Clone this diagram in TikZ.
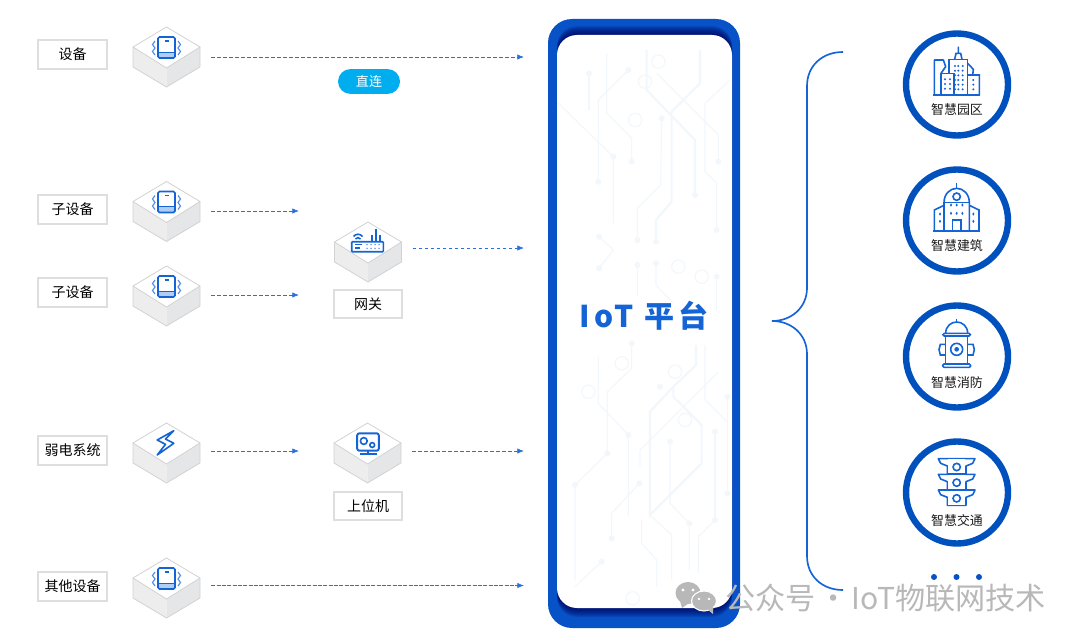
\documentclass[tikz,border=0pt]{standalone}
\usepackage{fontspec}
\setmainfont{Noto Sans CJK SC}
\usetikzlibrary{arrows.meta}
\definecolor{rimblue}{HTML}{0852C8}
\definecolor{ringblue}{HTML}{0050BE}
\definecolor{iconblue}{HTML}{1464D6}
\definecolor{flowblue}{HTML}{2B6FDC}
\definecolor{wavblue}{HTML}{4F8FEA}
\definecolor{trace}{HTML}{F2F7FC}
\definecolor{pillblue}{HTML}{00AEEF}
\definecolor{cubeleft}{HTML}{EDEDEE}
\definecolor{cuberight}{HTML}{E5E6E7}
\definecolor{cubeedge}{HTML}{D2D2D2}
\definecolor{markgray}{HTML}{B8B8B8}
\newcommand{\phoneglyph}[0]{%
  \fill[wavblue!45] (-8.5,25) rectangle (8.5,31);
  \draw[glyph,rounded corners=1.2pt] (-8.5,10) rectangle (8.5,31);
  \draw[glyph,line width=.6pt] (-8.5,25) -- (8.5,25);
  \draw[glyph,line width=.9pt] (-2,14) -- (2,14);
  \draw[wavblue,line width=.85pt] (-11.5,14) -- (-14,17.5) -- (-11.5,21) -- (-14,24.5) -- (-11.5,28);
  \draw[wavblue,line width=.85pt] (11.5,14) -- (14,17.5) -- (11.5,21) -- (14,24.5) -- (11.5,28);
}
\newcommand{\boltglyph}[0]{%
  \draw[glyph,line join=round] (7.3,7.7) -- (-9.3,17) -- (-1,21.3) -- (-9.3,32) -- (7.3,20.3) -- (-1,16) -- cycle;
}
\newcommand{\routerglyph}[0]{%
  \draw[glyph,rounded corners=.6pt] (-16.3,19.7) rectangle (15.3,29.7);
  \draw[glyph] (3.7,19.7) -- (3.7,13) (7.7,19.7) -- (7.7,7.3) (12,19.7) -- (12,13);
  \draw[glyph] (-14.5,14.5) .. controls (-12,11.5) and (-8,11.5) .. (-5.5,14.5);
  \draw[glyph] (-12.5,17) .. controls (-11,15.2) and (-9,15.2) .. (-7.5,17);
  \draw[glyph,line width=.9pt] (-13.5,22.5) -- (-6.5,22.5) (-13.5,26) -- (-8.5,26);
  \foreach \dotx in {-1,3,7,11} {
    \fill[iconblue] (\dotx,22.7) circle (.7) (\dotx,26.3) circle (.7);
  }
}
\newcommand{\hostglyph}[0]{%
  \draw[glyph,line width=1.45pt,rounded corners=1.6pt] (-10.3,10.3) rectangle (11.3,27.7);
  \draw[glyph] (-3.7,18) circle (3.4);
  \draw[glyph] (4.7,22) circle (2.4);
  \draw[glyph,line width=1.3pt] (.5,27.7) -- (.5,31) (-8,31.2) -- (9,31.2);
}
\newcommand{\isocube}[5]{%
  \begin{scope}[shift={(#2,#4)}]
    \fill[cubeleft] (-33.5,20) -- (0,41) -- (0,60) -- (-33.5,40) -- cycle;
    \fill[cuberight] (33.5,20) -- (0,41) -- (0,60) -- (33.5,40) -- cycle;
    \draw[cubeline,fill=white] (0,0) -- (33.5,20) -- (0,41) -- (-33.5,20) -- cycle;
    \draw[cubeline] (-33.5,20) -- (-33.5,40) -- (0,60) -- (33.5,40) -- (33.5,20);
    #5
  \end{scope}
  \node[cubeslot] (#1) at (#2,#3) {};
}
\tikzset{
  labelbox/.style={draw=black!13,line width=1.3pt,fill=white,minimum width=51.5pt,minimum height=21.5pt,inner sep=0pt,font=\fontsize{10.5}{12}\selectfont,text=black},
  cubeslot/.style={minimum width=66.75pt,minimum height=6pt,inner sep=0pt},
  cubeline/.style={draw=cubeedge,line width=.6pt,line join=round},
  glyph/.style={draw=iconblue,line width=1.2pt},
  flow/.style={draw=flowblue,line width=.55pt,dash pattern=on 2.6pt off 1.9pt,-{Latex[length=5pt,width=4pt]}},
  ringnode/.style={circle,draw=ringblue,line width=4.8pt,fill=white,minimum size=76.5pt,inner sep=0pt},
  ringtext/.style={inner sep=0pt,font=\fontsize{9.7}{11}\selectfont,text=black!90},
  crop/.style={x=.25pt,y=-.25pt},
  tracethin/.style={draw=trace,line width=.8pt},
  tracefat/.style={draw=trace,line width=1.6pt}
}
\begin{document}
\begin{tikzpicture}[x=.75pt,y=-.75pt]
  \useasboundingbox (0,0) rectangle (1080,642);
  \node[draw=none,fill=rimblue,rounded corners=18pt,minimum width=144pt,minimum height=456.75pt,inner sep=0pt] (platform) at (644,323.5) {};
  \foreach \spread in {1,...,9} {
    \fill[blue!35!black,opacity=.13,rounded corners=15pt] (557,35-\spread) rectangle (732,608+\spread);
  }
  \node[fill=white,rounded corners=15pt,minimum width=131.25pt,minimum height=429.75pt,inner sep=0pt] (board) at (644.5,321.5) {};
  \begin{scope}[shift={(530,10)},crop]
    \draw[tracethin] (205,515) -- (205,270) -- (295,180);
    \draw[tracethin] (230,130) -- (230,310) -- (305,385) -- (305,455);
    \draw[tracethin] (85,280) -- (250,440) -- (250,640);
    \draw[tracefat] (350,120) -- (350,240) -- (495,390) -- (495,555);
    \draw[tracethin] (395,325) -- (392,525) -- (322,595) -- (322,690);
    \draw[tracefat] (510,120) -- (510,220) -- (425,305) -- (425,575) -- (378,630) -- (378,695);
    \draw[tracethin] (600,210) -- (525,280) -- (525,485) -- (560,520) -- (560,660);
    \draw[tracethin] (380,190) -- (565,375) -- (565,455);
    \draw[tracethin] (207,680) -- (250,720) -- (207,775);
    \draw[tracethin] (378,760) -- (378,825) -- (430,880);
    \draw[tracethin] (322,765) -- (322,860);
    \draw[tracethin] (560,800) -- (560,900);
    \draw[tracethin] (177,190) -- (177,300);
    \foreach \hx/\hy in {205/515,295/180,305/455,250/440,495/555,395/325,322/690,378/695,560/660,565/455,207/680,207/775,378/760,322/765,560/800,177/190} {
      \fill[trace] (\hx,\hy) circle (9);
    }
    \foreach \hx/\hy in {315/330,345/215,385/155,515/800,445/770} {
      \draw[tracethin] (\hx,\hy) circle (20);
    }
  \end{scope}
  \begin{scope}[shift={(550,340)},crop]
    \draw[tracethin] (145,50) -- (145,190) -- (235,285) -- (235,530);
    \draw[tracethin] (245,10) -- (245,85) -- (172,155) -- (172,340) -- (75,435) -- (75,720);
    \draw[tracefat] (438,15) -- (438,75) -- (370,140) -- (370,170) -- (455,255) -- (455,370) -- (300,525) -- (300,215) -- (370,140);
    \draw[tracethin] (360,305) -- (360,490) -- (418,550) -- (418,690);
    \draw[tracethin] (268,430) -- (185,520) -- (185,595);
    \draw[tracefat] (495,275) -- (495,540);
    \draw[tracethin] (495,540) -- (445,590) -- (445,700);
    \draw[tracethin] (465,15) -- (465,180) -- (530,245);
    \draw[tracethin] (270,380) -- (270,330) -- (505,95);
    \draw[tracethin] (300,525) -- (365,585) -- (365,720);
    \draw[tracethin] (275,540) -- (275,610) -- (320,660) -- (320,740);
    \draw[tracethin] (532,170) -- (532,460);
    \draw[tracethin] (155,665) -- (75,740);
    \foreach \hx/\hy in {245/10,235/285,172/340,75/435,360/305,268/430,185/595,495/275,495/540,418/550,532/170,532/460,155/665,330/140} {
      \fill[trace] (\hx,\hy) circle (9);
    }
    \foreach \hx/\hy in {115/155,215/70,375/95,248/775,405/240} {
      \draw[tracethin] (\hx,\hy) circle (20);
    }
  \end{scope}
  \node[inner sep=0pt,text=iconblue,font=\fontsize{22.5}{26}\selectfont\bfseries\addfontfeature{LetterSpace=12}] (title) at (644,316) {IoT 平台};
  \node[labelbox] (lbDevice) at (72.5,54.5) {设备};
  \node[labelbox] (lbSubA) at (72.5,209.5) {子设备};
  \node[labelbox] (lbSubB) at (72.5,292.5) {子设备};
  \node[labelbox] (lbWeak) at (72.5,450.5) {弱电系统};
  \node[labelbox] (lbOther) at (72.5,586.5) {其他设备};
  \node[labelbox] (lbGate) at (368,304) {网关};
  \node[labelbox] (lbHost) at (368,506) {上位机};
  \node[fill=pillblue,rounded corners=9.3pt,minimum width=46.5pt,minimum height=18.6pt,inner sep=0pt,text=white,font=\fontsize{9.8}{11}\selectfont] (direct) at (369,81.5) {直连};
  \isocube{cbDevice}{166.5}{57}{27}{\phoneglyph}
  \isocube{cbSubA}{166.5}{211}{181.5}{\phoneglyph}
  \isocube{cbSubB}{166.5}{295}{266}{\phoneglyph}
  \isocube{cbWeak}{166.5}{451}{423}{\boltglyph}
  \isocube{cbOther}{166.5}{585.5}{558}{\phoneglyph}
  \isocube{cbGate}{368}{248}{222}{\routerglyph}
  \isocube{cbHost}{367.5}{451}{423}{\hostglyph}
  \coordinate (inDevice) at (524,57);
  \coordinate (inSubA) at (299,211);
  \coordinate (inSubB) at (299,295);
  \coordinate (inWeak) at (299,451);
  \coordinate (inOther) at (524,585.5);
  \coordinate (inGate) at (524,248);
  \coordinate (inHost) at (524,451);
  \draw[flow] (cbDevice.east) -- (inDevice);
  \draw[flow] (cbSubA.east) -- (inSubA);
  \draw[flow] (cbSubB.east) -- (inSubB);
  \draw[flow] (cbWeak.east) -- (inWeak);
  \draw[flow,dash pattern=on 3pt off 1pt] (cbOther.east) -- (inOther);
  \draw[flow] (cbGate.east) -- (inGate);
  \draw[flow] (cbHost.east) -- (inHost);
  \draw[iconblue,line width=1.25pt] (843,52) .. controls (822,52) and (807,66) .. (807,86) -- (807,288) .. controls (807,307) and (792,321) .. (772,321) .. controls (792,321) and (807,335) .. (807,354) -- (807,556) .. controls (807,576) and (822,590) .. (843,590);
  \node[ringnode] (park) at (957,84.5) {};
  \node[ringnode] (build) at (957,220.5) {};
  \node[ringnode] (fire) at (957,356.5) {};
  \node[ringnode] (road) at (957,492.5) {};
  \node[ringtext] (txPark) at (957,109.5) {智慧园区};
  \node[ringtext] (txBuild) at (957,246) {智慧建筑};
  \node[ringtext] (txFire) at (957,383) {智慧消防};
  \node[ringtext] (txRoad) at (957,520.5) {智慧交通};
  \begin{scope}[shift={(880,20)},crop]
    \draw[glyph,line join=round] (163,225) -- (163,120) -- (190,120) -- (197,140) -- (183,160) -- (183,225);
    \draw[glyph] (183,160) -- (222,160) -- (222,225);
    \draw[glyph] (207,160) -- (207,118) -- (263,118) -- (263,225);
    \draw[glyph] (224,118) -- (228,100) -- (242,100) -- (246,118) (235,100) -- (235,80);
    \draw[glyph] (263,130) -- (280,148) -- (278,165) -- (298,165) -- (298,225) (263,165) -- (278,165);
    \draw[glyph,line width=1.5pt] (160,226) -- (300,226);
    \foreach \wx in {195,210} {
      \foreach \wy in {178,192,206} {
        \fill[iconblue] (\wx,\wy) circle (3.4);
      }
    }
    \foreach \wx in {225,235,248} {
      \foreach \wy in {138,152,166,180,194,208} {
        \fill[iconblue] (\wx,\wy) circle (3.4);
      }
    }
    \foreach \wy in {180,194,208} {
      \fill[iconblue] (280,\wy) circle (3.4);
    }
    \draw[glyph] (230,488) -- (230,505);
    \draw[glyph] (192,630) -- (192,548) .. controls (192,522) and (210,505) .. (230,505) .. controls (250,505) and (268,522) .. (268,548) -- (268,630);
    \draw[glyph] (230,530) circle (11);
    \draw[glyph] (190,548) -- (270,548);
    \draw[glyph] (192,556) -- (163,570) -- (163,632) (268,556) -- (297,570) -- (297,632);
    \draw[glyph,line width=1.5pt] (160,633) -- (300,633);
    \draw[glyph] (218,632) -- (218,600) -- (243,600) -- (243,632);
    \foreach \wx/\wy in {213/555,230/555,247/555,213/580,230/580,247/580,180/582,180/604,280/582,280/604} {
      \fill[iconblue] (\wx,\wy) ellipse (3.2 and 5);
    }
  \end{scope}
  \begin{scope}[shift={(880,290)},crop]
    \draw[glyph] (230,86) -- (230,96);
    \draw[glyph] (197,130) .. controls (197,108) and (214,96) .. (230,96) .. controls (246,96) and (263,108) .. (263,130);
    \draw[glyph,rounded corners=1pt] (189,130) rectangle (271,138);
    \draw[glyph] (197,138) -- (197,222) (263,138) -- (263,222);
    \draw[glyph,rounded corners=1pt] (188,222) rectangle (272,232);
    \draw[glyph] (230,178) circle (18);
    \fill[iconblue] (230,178) circle (7);
    \draw[glyph] (197,163) -- (181,163) -- (177,179) -- (181,195) -- (197,195);
    \draw[glyph] (263,163) -- (279,163) -- (283,179) -- (279,195) -- (263,195);
    \foreach \rowy in {506,553,600} {
      \draw[glyph,line join=round] (175,\rowy) -- (285,\rowy) -- (278,\rowy+14) -- (258,\rowy+22) -- (258,\rowy+46) -- (202,\rowy+46) -- (202,\rowy+22) -- (182,\rowy+14) -- cycle;
      \fill[white] (204,\rowy+2) rectangle (256,\rowy+44);
      \draw[glyph] (230,\rowy+25) circle (11);
    }
  \end{scope}
  \foreach \dotx in {934,956.5,979} {
    \fill[rimblue] (\dotx,577) circle (3);
  }
  \fill[markgray] (688,593) ellipse (12.5 and 11);
  \fill[markgray] (680,601) -- (682,608) -- (689,603) -- cycle;
  \fill[white] (683,590) circle (1.6) (693,590) circle (1.6);
  \draw[white,fill=markgray,line width=.8pt] (704,601) ellipse (12.5 and 10);
  \fill[markgray] (708,610) -- (713,614) -- (713,607) -- cycle;
  \fill[white] (699,599) circle (1.4) (709,599) circle (1.4);
  \node[inner sep=0pt,anchor=west,text=markgray,font=\fontsize{22.6}{26}\selectfont] (mark) at (725,598) {公众号\hspace{.1em}·\hspace{.1em}IoT物联网技术};
\end{tikzpicture}
\end{document}
